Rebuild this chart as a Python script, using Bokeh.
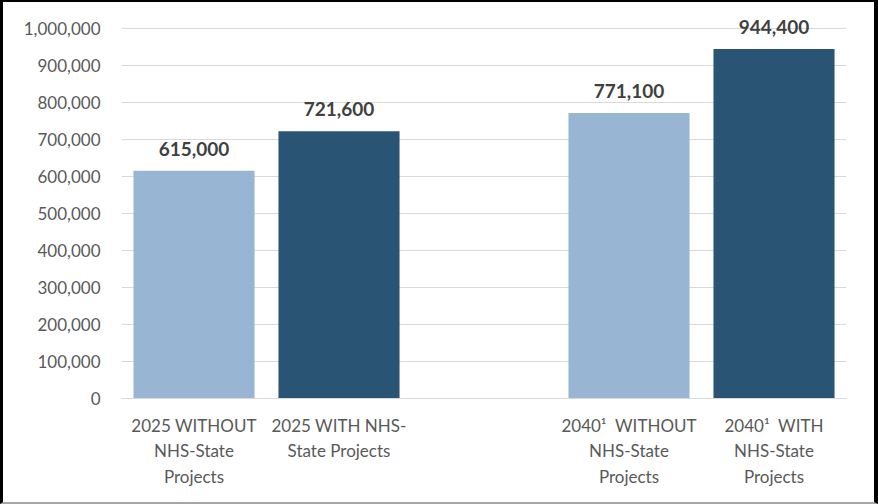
from bokeh.plotting import figure
from bokeh.models import FactorRange, ColumnDataSource, FixedTicker, NumeralTickFormatter, Range1d
from bokeh.core.properties import value
from bokeh.embed import file_html
from bokeh.resources import INLINE

# ---- data ----
categories = [
    "2025 WITHOUT\nNHS-State\nProjects",
    "2025 WITH NHS-\nState Projects",
    " ",
    "2040\u00b9\u00a0\u00a0WITHOUT\nNHS-State\nProjects",
    "2040\u00b9\u00a0\u00a0WITH\nNHS-State\nProjects",
]
bar_categories = [categories[0], categories[1], categories[3], categories[4]]
bar_values = [615000, 721600, 771100, 944400]
bar_value_labels = ["615,000", "721,600", "771,100", "944,400"]
bar_colors = ["#98B6D3", "#2A5473", "#98B6D3", "#2A5473"]
y_ticks = [0, 100000, 200000, 300000, 400000, 500000, 600000, 700000, 800000, 900000, 1000000]

FONT = "Lato"

p = figure(
    x_range=FactorRange(factors=categories),
    y_range=Range1d(0, 1040000),
    width=878, height=504,
    output_backend="svg", toolbar_location=None,
    min_border_left=118, min_border_right=35,
    min_border_top=11, min_border_bottom=108,
)
p.styles = {
    "border-left": "3px solid black",
    "border-right": "4px solid black",
    "border-top": "2px solid black",
    "border-bottom": "2px solid #A6A6A6",
}
p.outline_line_color = None
p.background_fill_color = "white"
p.border_fill_color = "white"

src = ColumnDataSource(dict(x=bar_categories, top=bar_values, label=bar_value_labels, color=bar_colors))
p.vbar(x="x", top="top", width=0.835, color="color", line_color=None, source=src)
p.text(x="x", y="top", text="label", source=src, text_align="center",
       text_baseline="alphabetic", y_offset=-22, text_font=value(FONT),
       text_font_style="bold", text_font_size="19px", text_color="#404040")

# y axis
p.yaxis.ticker = FixedTicker(ticks=y_ticks)
p.yaxis.formatter = NumeralTickFormatter(format="0,0")
p.yaxis.axis_line_color = None
p.yaxis.major_tick_line_color = None
p.yaxis.major_tick_out = 0
p.yaxis.major_tick_in = 0
p.yaxis.minor_tick_line_color = None
p.yaxis.major_label_standoff = 21
p.yaxis.major_label_text_font = FONT
p.yaxis.major_label_text_font_size = "17px"
p.yaxis.major_label_text_color = "#595959"

# x axis
p.xaxis.axis_line_color = "#D9D9D9"
p.xaxis.major_tick_line_color = None
p.xaxis.major_tick_out = 0
p.xaxis.major_tick_in = 0
p.xaxis.minor_tick_line_color = None
p.xaxis.major_label_standoff = 16
p.xaxis.major_label_text_font = FONT
p.xaxis.major_label_text_font_size = "17px"
p.xaxis.major_label_text_color = "#595959"
p.xaxis.major_label_text_line_height = 1.23

p.xgrid.grid_line_color = None
p.ygrid.grid_line_color = "#D9D9D9"
p.ygrid.ticker = FixedTicker(ticks=y_ticks)

open("out.html", "w").write(file_html(p, INLINE))
